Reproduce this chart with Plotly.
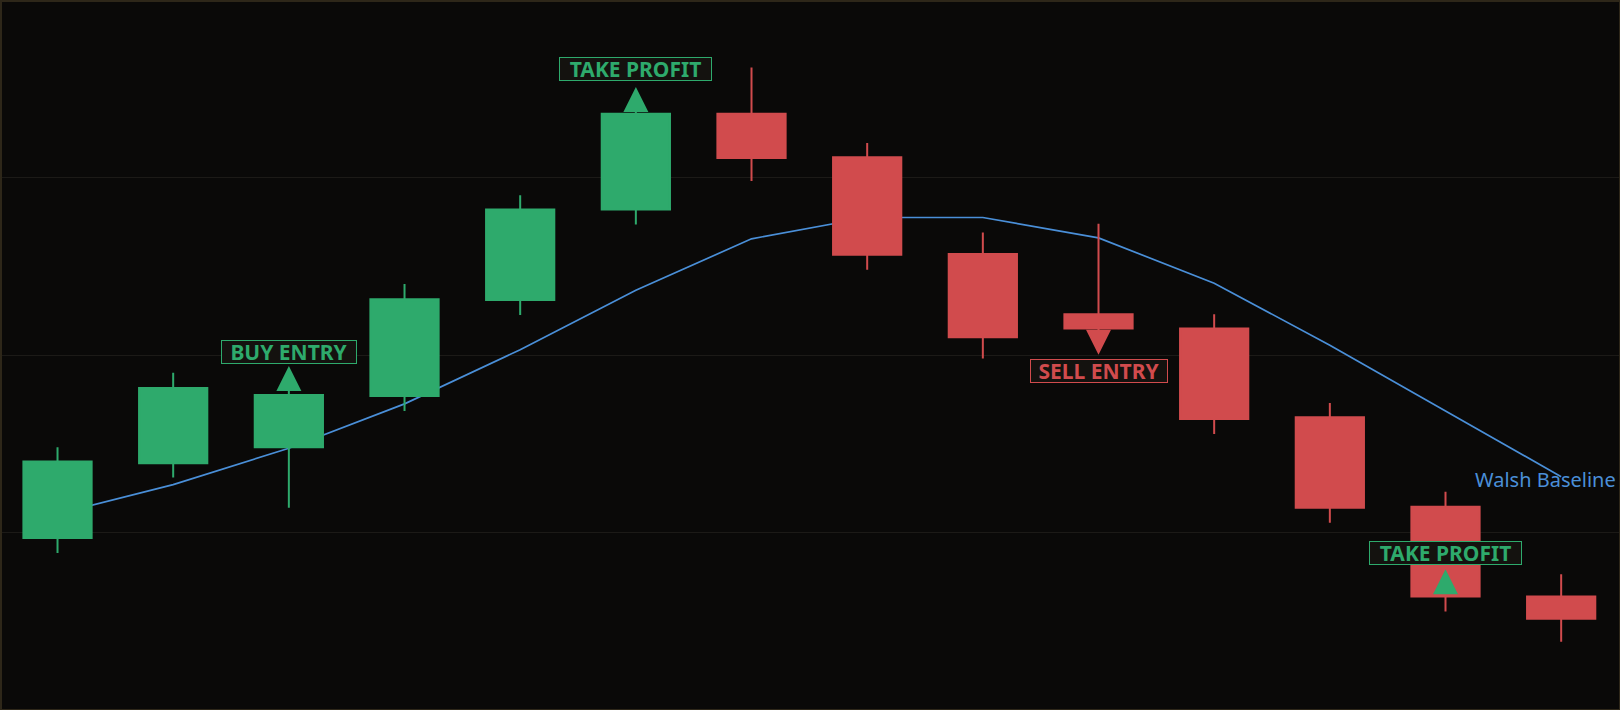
import plotly.graph_objects as go

# candle data (bar index -> OHLC)
bars = list(range(14))
open_ = [89.7, 93.9, 94.8, 97.7, 103.1, 108.2, 113.6, 111.15, 105.7, 102.3, 101.5, 96.5, 91.45, 86.4]
high = [94.8, 99.0, 98.0, 104.0, 109.0, 113.9, 116.2, 111.95, 106.9, 107.4, 102.3, 97.3, 92.3, 87.65]
low = [88.85, 93.1, 91.4, 96.85, 102.25, 107.35, 109.8, 104.8, 99.8, 101.25, 95.55, 90.55, 85.55, 83.85]
close = [94.0, 98.15, 97.75, 103.15, 108.2, 113.6, 111.1, 105.65, 101.0, 101.5, 96.4, 91.4, 86.4, 85.15]

# Walsh baseline
baseline = [91.05, 92.7, 94.75, 97.25, 100.3, 103.65, 106.55, 107.75, 107.75, 106.6, 104.05, 100.55, 96.85, 93.15]

# signal arrows (price at the arrow tip)
up_idx = [2, 5, 12]
up_price = [99.38, 115.1, 87.93]
down_idx = [9]
down_price = [100.02]

label_idx = [2, 5, 9, 12]
label_price = [100.2, 116.1, 99.13, 88.87]
label_text = ['BUY ENTRY', 'TAKE PROFIT', 'SELL ENTRY', 'TAKE PROFIT']
label_side = ['buy', 'buy', 'sell', 'buy']

GREEN = '#2eaa6c'
RED = '#d14b4d'
BLUE = '#4a8fd8'

fig = go.Figure()

# baseline goes behind the candles
fig.add_trace(go.Scatter(
    x=bars, y=baseline, mode='lines',
    line=dict(color=BLUE, width=1.7),
    name='Walsh Baseline', hoverinfo='skip', zorder=-1
))

fig.add_trace(go.Candlestick(
    x=bars, open=open_, high=high, low=low, close=close,
    increasing=dict(line=dict(color=GREEN, width=2), fillcolor=GREEN),
    decreasing=dict(line=dict(color=RED, width=2), fillcolor=RED),
    whiskerwidth=0,
    name='Price'
))

fig.add_trace(go.Scatter(
    x=up_idx, y=up_price, mode='markers',
    marker=dict(symbol='arrow-up', size=25, color=GREEN, line=dict(width=0)),
    hoverinfo='skip', zorder=1
))
fig.add_trace(go.Scatter(
    x=down_idx, y=down_price, mode='markers',
    marker=dict(symbol='arrow-down', size=25, color=RED, line=dict(width=0)),
    hoverinfo='skip', zorder=1
))

# signal labels
box_width = {'BUY ENTRY': 134, 'TAKE PROFIT': 151, 'SELL ENTRY': 136}
for i, p, t, side in zip(label_idx, label_price, label_text, label_side):
    c = GREEN if side == 'buy' else RED
    fig.add_annotation(
        x=i, y=p, text='<b>%s</b>' % t, showarrow=False,
        xanchor='center', yanchor='middle',
        font=dict(family='Noto Sans', size=21, color=c),
        bgcolor='#14120f', bordercolor=c, borderwidth=1, borderpad=0,
        width=box_width[t], height=22
    )

fig.add_annotation(
    x=1, xref='paper', y=93.0, text='Walsh Baseline', showarrow=False,
    xanchor='right', yanchor='middle', xshift=-1,
    font=dict(family='Noto Sans', size=20, color=BLUE)
)

fig.update_layout(
    width=1620, height=710,
    margin=dict(l=2, r=1, t=2, b=1),
    paper_bgcolor='#2e2719',
    plot_bgcolor='#0a0908',
    showlegend=False,
    boxgap=0.41, boxgroupgap=0,
    xaxis=dict(range=[-0.48, 13.5], showgrid=False, zeroline=False,
               showticklabels=False, rangeslider=dict(visible=False), fixedrange=True),
    yaxis=dict(range=[80.06, 119.89], tick0=0, dtick=10, showgrid=True,
               gridcolor='#1c1a17', gridwidth=1, zeroline=False,
               showticklabels=False, fixedrange=True),
)

# drop the default page margin so the chart fills the window
fig.write_html('out.html', config={'displayModeBar': False},
               post_script="document.body.style.margin='0';document.body.style.overflow='hidden';")
